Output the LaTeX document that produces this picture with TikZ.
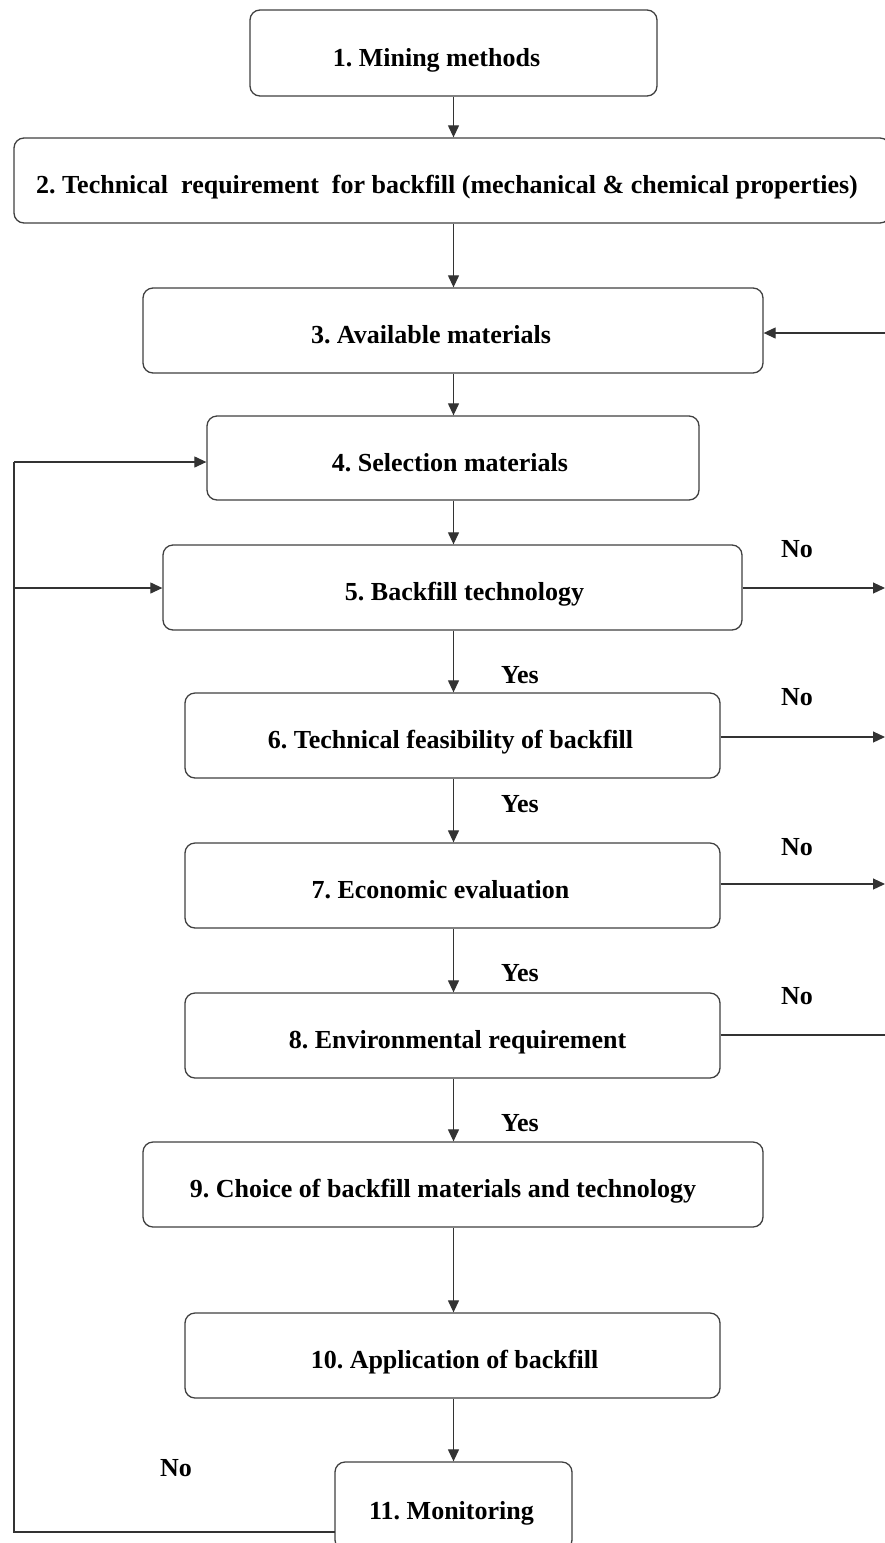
\documentclass[tikz,border=0pt]{standalone}
\usepackage{fontspec}
\setmainfont{Liberation Serif}
\usetikzlibrary{arrows.meta}
\newcommand{\offtxt}[2]{\makebox[0pt]{\hspace*{#1}#2}}
\begin{document}
\frenchspacing
\begin{tikzpicture}[x=1pt,y=-1pt,
  box/.style={draw=black!75, line width=1.3pt, rounded corners=10pt, inner sep=0pt,
    font=\fontsize{26}{30}\selectfont\bfseries, text height=26pt, text depth=0pt, fill=white},
  arr/.style={draw=black!80, line width=1.2pt, -{Triangle[length=12pt,width=11pt]}},
  ln/.style={draw=black!80, line width=1.2pt},
  lab/.style={font=\fontsize{26}{30}\selectfont\bfseries, inner sep=0pt}]
\useasboundingbox (0,0) rectangle (885,1543);
\clip (0,0) rectangle (885,1543);
\node[box, minimum width=407pt, minimum height=86pt] (b1) at (453.5,53) {\offtxt{-34pt}{1. Mining methods}};
\node[box, minimum width=876pt, minimum height=85pt] (b2) at (452,180.5) {\offtxt{-10pt}{2. Technical\ \ requirement\ \ for backfill (mechanical \& chemical properties)}};
\node[box, minimum width=620pt, minimum height=85pt] (b3) at (453,330.5) {\offtxt{-44pt}{3. Available materials}};
\node[box, minimum width=492pt, minimum height=84pt] (b4) at (453,458) {\offtxt{-6pt}{4. Selection materials}};
\node[box, minimum width=579pt, minimum height=85pt] (b5) at (452.5,587.5) {\offtxt{24pt}{5. Backfill technology}};
\node[box, minimum width=535pt, minimum height=85pt] (b6) at (452.5,735.5) {\offtxt{-4pt}{6. Technical feasibility of backfill}};
\node[box, minimum width=535pt, minimum height=85pt] (b7) at (452.5,885.5) {\offtxt{-24pt}{7. Economic evaluation}};
\node[box, minimum width=535pt, minimum height=85pt] (b8) at (452.5,1035.5) {\offtxt{10pt}{8. Environmental requirement}};
\node[box, minimum width=620pt, minimum height=85pt] (b9) at (453,1184.5) {\offtxt{-20pt}{9. Choice of backfill materials and technology}};
\node[box, minimum width=535pt, minimum height=85pt] (b10) at (452.5,1355.5) {\offtxt{4pt}{10. Application of backfill}};
\node[box, minimum width=237pt, minimum height=88pt] (b11) at (453.5,1506) {\offtxt{-4pt}{11. Monitoring}};

% main vertical flow
\draw[arr] (b1.south) -- (b1.south |- b2.north);
\draw[arr] (b1.south |- b2.south) -- (b1.south |- b3.north);
\draw[arr] (b1.south |- b3.south) -- (b1.south |- b4.north);
\draw[arr] (b1.south |- b4.south) -- (b1.south |- b5.north);
\draw[arr] (b1.south |- b5.south) -- (b1.south |- b6.north);
\draw[arr] (b1.south |- b6.south) -- (b1.south |- b7.north);
\draw[arr] (b1.south |- b7.south) -- (b1.south |- b8.north);
\draw[arr] (b1.south |- b8.south) -- (b1.south |- b9.north);
\draw[arr] (b1.south |- b9.south) -- (b1.south |- b10.north);
\draw[arr] (b1.south |- b10.south) -- (b1.south |- b11.north);

% right side
\coordinate (r3) at (885,333);
\coordinate (r5) at (885,588);
\coordinate (r6) at (885,737);
\coordinate (r7) at (885,884);
\coordinate (r8) at (885,1035);
\draw[arr] (r3) -- (b3.east |- r3);
\draw[arr] (b5.east |- r5) -- (r5);
\draw[arr] (b6.east |- r6) -- (r6);
\draw[arr] (b7.east |- r7) -- (r7);
\draw[ln] (b8.east |- r8) -- (r8);

% left feedback loop
\coordinate (m) at (335,1532);
\coordinate (lb) at (14,1532);
\coordinate (l4) at (14,462);
\coordinate (l5) at (14,588);
\draw[ln] (m) -- (lb) -- (l4);
\draw[arr] (l4) -- (b4.west |- l4);
\draw[arr] (l5) -- (b5.west |- l5);

% labels
\node[lab] (n5) at (797,549) {No};
\node[lab] (n6) at (797,697) {No};
\node[lab] (n7) at (797,847) {No};
\node[lab] (n8) at (797,996) {No};
\node[lab] (n11) at (176,1468) {No};
\node[lab] (y6) at (520,675) {Yes};
\node[lab] (y7) at (520,804) {Yes};
\node[lab] (y8) at (520,973) {Yes};
\node[lab] (y9) at (520,1123) {Yes};
\end{tikzpicture}
\end{document}
